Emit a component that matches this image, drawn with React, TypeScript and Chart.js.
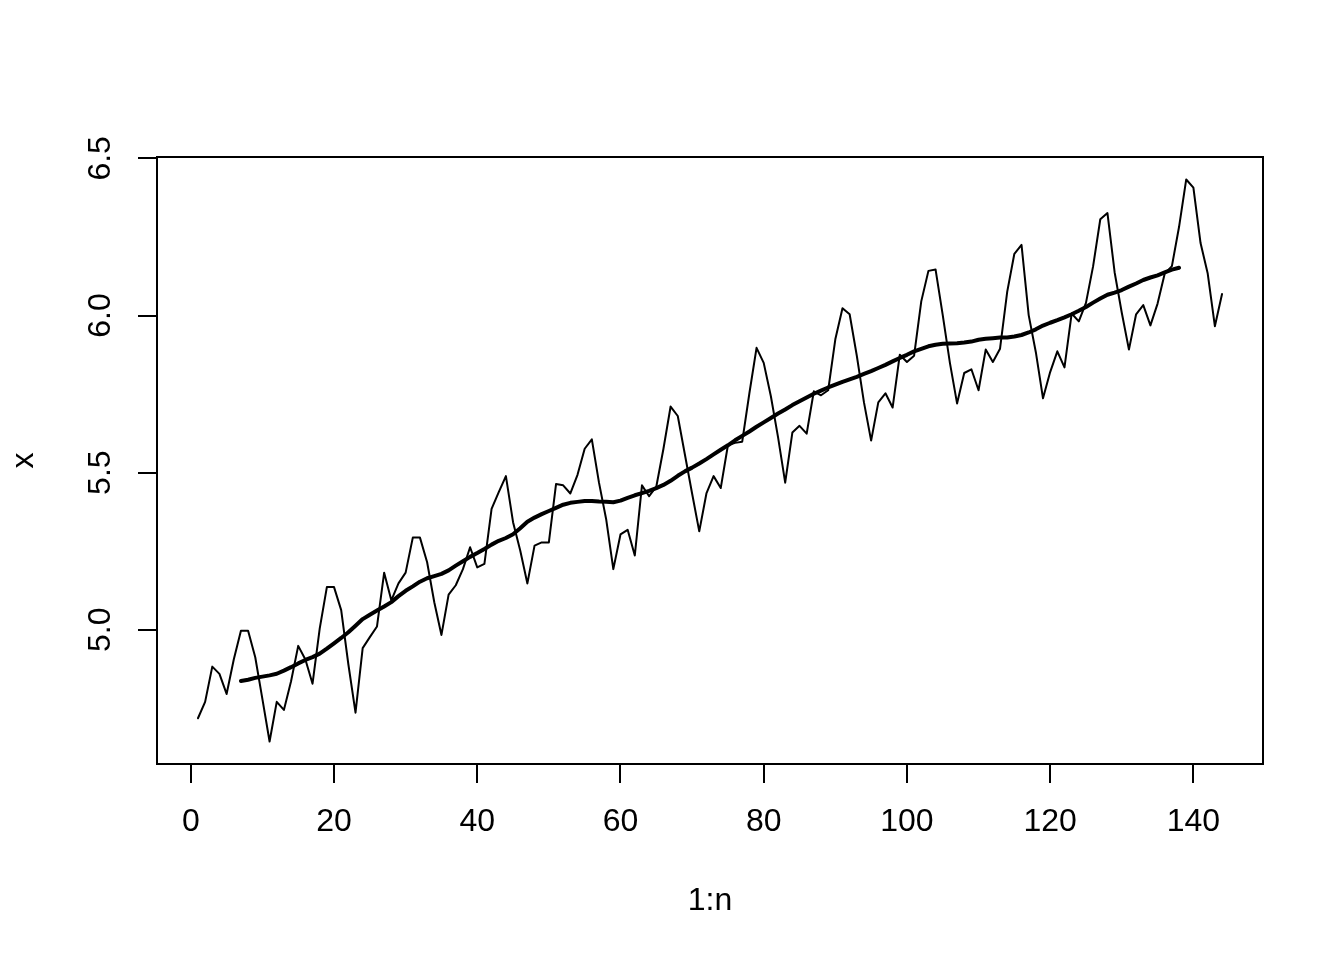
import React, { useEffect, useRef } from "react";
import { Chart, registerables } from "chart.js";

Chart.register(...registerables);

// log(AirPassengers), months 1..144
const logPassengers: number[] = [
  4.7185, 4.7707, 4.8828, 4.8598, 4.7958, 4.9053, 4.9972, 4.9972, 4.9127, 4.7791, 4.6444, 4.7707,
  4.7449, 4.8363, 4.9488, 4.9053, 4.8283, 5.0039, 5.1358, 5.1358, 5.0626, 4.8903, 4.7362, 4.9416,
  4.9767, 5.0106, 5.1818, 5.0938, 5.1475, 5.1818, 5.2933, 5.2933, 5.2149, 5.0876, 4.9836, 5.1120,
  5.1417, 5.1930, 5.2627, 5.1985, 5.2095, 5.3845, 5.4381, 5.4889, 5.3423, 5.2523, 5.1475, 5.2679,
  5.2781, 5.2781, 5.4638, 5.4596, 5.4337, 5.4931, 5.5760, 5.6058, 5.4681, 5.3519, 5.1930, 5.3033,
  5.3181, 5.2364, 5.4596, 5.4250, 5.4553, 5.5760, 5.7104, 5.6802, 5.5568, 5.4337, 5.3132, 5.4337,
  5.4889, 5.4510, 5.5872, 5.5947, 5.5984, 5.7526, 5.8972, 5.8493, 5.7430, 5.6131, 5.4681, 5.6276,
  5.6490, 5.6240, 5.7589, 5.7462, 5.7621, 5.9243, 6.0234, 6.0039, 5.8721, 5.7236, 5.6021, 5.7236,
  5.7526, 5.7071, 5.8749, 5.8522, 5.8721, 6.0450, 6.1420, 6.1463, 6.0014, 5.8493, 5.7203, 5.8171,
  5.8289, 5.7621, 5.8916, 5.8522, 5.8944, 6.0753, 6.1964, 6.2246, 6.0014, 5.8833, 5.7366, 5.8201,
  5.8861, 5.8348, 6.0063, 5.9814, 6.0403, 6.1570, 6.3063, 6.3261, 6.1377, 6.0088, 5.8916, 6.0039,
  6.0331, 5.9687, 6.0379, 6.1334, 6.1570, 6.2823, 6.4329, 6.4069, 6.2305, 6.1334, 5.9661, 6.0684,
];

// centered 12-month moving average, months 7..138
const trendStart = 7;
const trendValues: number[] = [
  4.837, 4.841, 4.847, 4.851, 4.855, 4.860, 4.870, 4.881, 4.893, 4.904, 4.913, 4.924,
  4.940, 4.957, 4.974, 4.992, 5.013, 5.034, 5.048, 5.061, 5.074, 5.088, 5.107, 5.124,
  5.138, 5.153, 5.164, 5.171, 5.178, 5.189, 5.204, 5.218, 5.232, 5.244, 5.257, 5.271,
  5.283, 5.292, 5.304, 5.323, 5.344, 5.357, 5.368, 5.378, 5.388, 5.398, 5.404, 5.407,
  5.410, 5.410, 5.408, 5.407, 5.406, 5.411, 5.420, 5.428, 5.435, 5.442, 5.451, 5.461,
  5.474, 5.490, 5.504, 5.516, 5.529, 5.543, 5.558, 5.573, 5.587, 5.603, 5.617, 5.631,
  5.646, 5.660, 5.674, 5.688, 5.701, 5.715, 5.727, 5.739, 5.751, 5.761, 5.771, 5.780,
  5.789, 5.797, 5.805, 5.814, 5.823, 5.833, 5.843, 5.854, 5.865, 5.875, 5.886, 5.894,
  5.902, 5.907, 5.910, 5.911, 5.912, 5.914, 5.917, 5.923, 5.926, 5.928, 5.930, 5.930,
  5.933, 5.938, 5.946, 5.956, 5.968, 5.977, 5.985, 5.994, 6.004, 6.015, 6.027, 6.041,
  6.054, 6.066, 6.073, 6.081, 6.092, 6.102, 6.113, 6.121, 6.128, 6.137, 6.146, 6.152,
];

const xTicks: number[] = [0, 20, 40, 60, 80, 100, 120, 140];
const yTicks: number[] = [5.0, 5.5, 6.0, 6.5];
const xRange: [number, number] = [-4.72, 149.72];
const yRange: [number, number] = [4.5729, 6.5044];
const xTitle = "1:n";
const yTitle = "x";

const FONT = "'Liberation Sans', Arial, Helvetica, sans-serif";

const boxPlugin = {
  id: "rbox",
  afterDraw(chart: any) {
    const { ctx, chartArea } = chart;
    ctx.save();
    ctx.strokeStyle = "#000";
    ctx.lineWidth = 2;
    ctx.strokeRect(chartArea.left, chartArea.top, chartArea.right - chartArea.left, chartArea.bottom - chartArea.top);
    ctx.restore();
  },
};

export default function App() {
  const ref = useRef<HTMLCanvasElement | null>(null);
  useEffect(() => {
    if (!ref.current) return;
    const seriesData = logPassengers.map((v, i) => ({ x: i + 1, y: v }));
    const trendData = trendValues.map((v, i) => ({ x: i + trendStart, y: v }));
    const chart = new Chart(ref.current, {
      type: "line",
      data: {
        datasets: [
          {
            data: seriesData,
            borderColor: "#000",
            borderWidth: 2,
            pointRadius: 0,
            tension: 0,
            borderJoinStyle: "round",
            borderCapStyle: "round",
          },
          {
            data: trendData,
            borderColor: "#000",
            borderWidth: 4,
            pointRadius: 0,
            tension: 0,
            borderJoinStyle: "round",
            borderCapStyle: "round",
          },
        ],
      },
      options: {
        responsive: false,
        animation: false,
        events: [],
        layout: { padding: { top: 157, right: 81, left: 0, bottom: 0 } },
        plugins: { legend: { display: false }, tooltip: { enabled: false }, title: { display: false } },
        scales: {
          x: {
            type: "linear",
            min: xRange[0],
            max: xRange[1],
            afterBuildTicks: (s: any) => {
              s.ticks = xTicks.map((v) => ({ value: v }));
            },
            afterFit: (s: any) => {
              s.height = 196;
            },
            grid: {
              display: true,
              drawOnChartArea: false,
              drawTicks: true,
              tickLength: 19,
              tickWidth: 2,
              tickColor: "#000",
              lineWidth: 2,
              color: "#000",
            },
            border: { display: false },
            ticks: {
              autoSkip: false,
              maxRotation: 0,
              minRotation: 0,
              padding: 20,
              color: "#000",
              font: { family: FONT, size: 32 },
              callback: (v: any) => String(v),
            },
            title: {
              display: true,
              text: xTitle,
              color: "#000",
              font: { family: FONT, size: 32 },
              padding: { top: 0, bottom: 40 },
            },
          },
          y: {
            type: "linear",
            min: yRange[0],
            max: yRange[1],
            afterBuildTicks: (s: any) => {
              s.ticks = yTicks.map((v) => ({ value: v }));
            },
            afterFit: (s: any) => {
              s.width = 157;
            },
            grid: {
              display: true,
              drawOnChartArea: false,
              drawTicks: true,
              tickLength: 19,
              tickWidth: 2,
              tickColor: "#000",
              lineWidth: 2,
              color: "#000",
            },
            border: { display: false },
            ticks: {
              autoSkip: false,
              minRotation: 90,
              maxRotation: 90,
              crossAlign: "center",
              padding: 15,
              color: "#000",
              font: { family: FONT, size: 32 },
              callback: (v: any) => Number(v).toFixed(1),
            },
            title: {
              display: true,
              text: yTitle,
              color: "#000",
              font: { family: FONT, size: 32 },
              padding: { top: 5, bottom: 0 },
            },
          },
        },
      },
      plugins: [boxPlugin],
    } as any);
    return () => chart.destroy();
  }, []);
  return (
    <div style={{ position: "absolute", left: 0, top: 0, width: 1344, height: 960, background: "#fff" }}>
      <canvas ref={ref} width={1344} height={960} style={{ display: "block", width: 1344, height: 960 }} />
    </div>
  );
}
